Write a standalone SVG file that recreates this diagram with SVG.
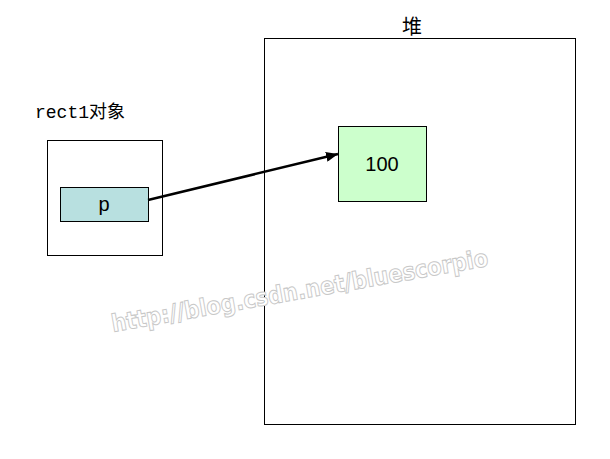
<svg xmlns="http://www.w3.org/2000/svg" width="610" height="459" viewBox="0 0 610 459">
<style>
.box{fill:#ffffff;stroke:#000;stroke-width:1}
.lbl{font-family:"Liberation Sans",Arial,sans-serif;font-size:20px;fill:#000;text-anchor:middle}
.cjk{font-family:"Liberation Mono","Noto Sans CJK SC",monospace;font-size:18px;fill:#000}
.wm{font-family:"DejaVu Sans","Liberation Sans",sans-serif;font-weight:bold;font-size:24px;fill:#fff;stroke:#c8c8c8;stroke-width:1}
</style>
<defs>
<marker id="ah" markerWidth="12" markerHeight="10" refX="12" refY="5" orient="auto" markerUnits="userSpaceOnUse">
<path d="M0,0 L12,5 L0,10 Z" fill="#000"/>
</marker>
</defs>
<rect width="610" height="459" fill="#fff"/>
<g id="heap">
<rect class="box" x="264.5" y="38.5" width="311" height="386"/>
<text x="402" y="34" style="font-family:'Noto Sans CJK SC',sans-serif;font-size:20px">堆</text>
</g>
<g id="rect1">
<rect class="box" x="47.5" y="140.5" width="115" height="115"/>
<text class="cjk" x="35" y="118">rect1<tspan style="font-family:'Noto Sans CJK SC',sans-serif">对象</tspan></text>
</g>
<g id="p">
<rect x="60.5" y="187.5" width="88" height="34" fill="#b8e0e0" stroke="#000"/>
<text class="lbl" x="104" y="211">p</text>
</g>
<g id="val">
<rect x="338.5" y="126.5" width="88" height="75" fill="#ccffcc" stroke="#000"/>
<text class="lbl" x="382" y="171">100</text>
</g>
<g id="connectors">
<line x1="148" y1="200" x2="338" y2="154" stroke="#000" stroke-width="2.5" marker-end="url(#ah)"/>
</g>
<text class="wm" x="113" y="332" transform="rotate(-10 113 332)" textLength="382" lengthAdjust="spacingAndGlyphs">http://blog.csdn.net/bluescorpio</text>
</svg>
